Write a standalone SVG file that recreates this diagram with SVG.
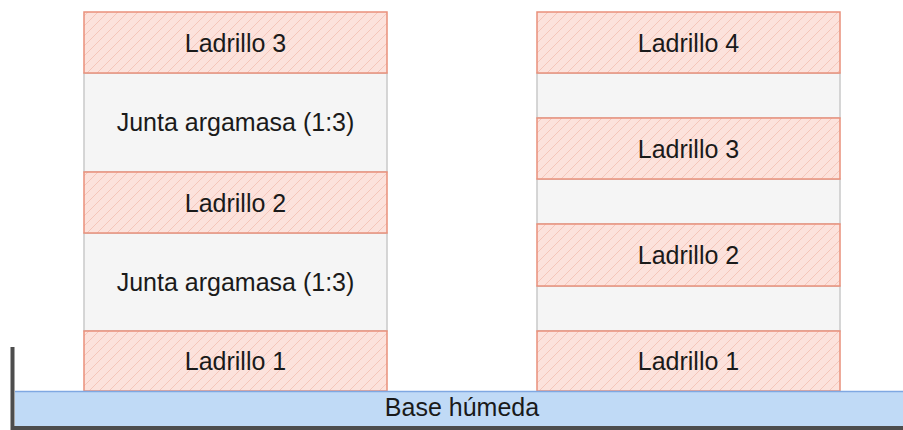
<svg xmlns="http://www.w3.org/2000/svg" width="903" height="430" viewBox="0 0 903 430">
<style>
.brick{fill:url(#hatch);stroke:#e9907b;stroke-width:1.5}
.junta{fill:#f5f5f5;stroke:#c9c9c9;stroke-width:1.5}
.lbl{font-family:"Liberation Sans",Arial,sans-serif;font-size:25px;fill:#1a1a1a;text-anchor:middle}
</style>
<defs>
<pattern id="hatch" patternUnits="userSpaceOnUse" width="10" height="10">
<rect width="10" height="10" fill="#fce2dc"/>
<path d="M0,10 L10,0 M-1,1 L1,-1 M9,11 L11,9" stroke="#f5c6ba" stroke-width="1"/>
</pattern>
</defs>
<g id="left-column">
<g id="junta-l2"><rect class="junta" x="84" y="73" width="303" height="99"/><text class="lbl" x="235.5" y="131">Junta argamasa (1:3)</text></g>
<g id="junta-l1"><rect class="junta" x="84" y="233" width="303" height="98"/><text class="lbl" x="235.5" y="291">Junta argamasa (1:3)</text></g>
<g id="ladrillo-l3"><rect class="brick" x="84" y="12" width="303" height="61"/><text class="lbl" x="235.5" y="52">Ladrillo 3</text></g>
<g id="ladrillo-l2"><rect class="brick" x="84" y="172" width="303" height="61"/><text class="lbl" x="235.5" y="212">Ladrillo 2</text></g>
<g id="ladrillo-l1"><rect class="brick" x="84" y="331" width="303" height="60"/><text class="lbl" x="235.5" y="370">Ladrillo 1</text></g>
</g>
<g id="right-column">
<g id="junta-r3"><rect class="junta" x="537" y="73" width="303" height="45"/></g>
<g id="junta-r2"><rect class="junta" x="537" y="179" width="303" height="45"/></g>
<g id="junta-r1"><rect class="junta" x="537" y="286" width="303" height="45"/></g>
<g id="ladrillo-r4"><rect class="brick" x="537" y="12" width="303" height="61"/><text class="lbl" x="688.5" y="52">Ladrillo 4</text></g>
<g id="ladrillo-r3"><rect class="brick" x="537" y="118" width="303" height="61"/><text class="lbl" x="688.5" y="157.5">Ladrillo 3</text></g>
<g id="ladrillo-r2"><rect class="brick" x="537" y="224" width="303" height="62"/><text class="lbl" x="688.5" y="264">Ladrillo 2</text></g>
<g id="ladrillo-r1"><rect class="brick" x="537" y="331" width="303" height="60"/><text class="lbl" x="688.5" y="370">Ladrillo 1</text></g>
</g>
<g id="base">
<rect x="15" y="391" width="890" height="36" fill="#c0daf6"/>
<line x1="15" y1="391.5" x2="903" y2="391.5" stroke="#7fa8e2" stroke-width="1.5"/>
<text class="lbl" x="462" y="416">Base húmeda</text>
</g>
<g id="connectors">
<path d="M12.5,347 V428 H903" fill="none" stroke="#4d4d4d" stroke-width="4"/>
</g>
</svg>
